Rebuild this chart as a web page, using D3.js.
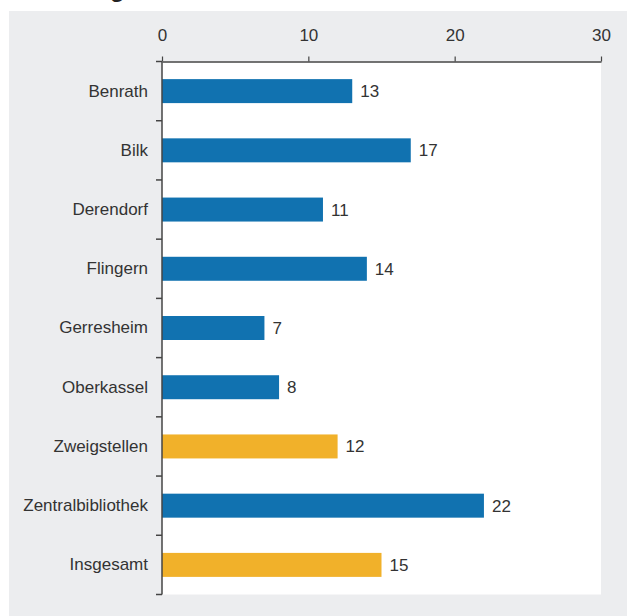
<!DOCTYPE html>
<html>
<head>
<meta charset="utf-8">
<script src="https://cdn.jsdelivr.net/npm/d3@7"></script>
<style>
  html, body { margin: 0; padding: 0; background: #fff; }
  svg { display: block; font-family: "Liberation Sans", Arial, sans-serif; }
</style>
</head>
<body>
<svg id="chart" width="627" height="616"></svg>
<script>
// Umschlag je Standort
const categories = ["Benrath", "Bilk", "Derendorf", "Flingern", "Gerresheim",
                    "Oberkassel", "Zweigstellen", "Zentralbibliothek", "Insgesamt"];
const values = [13, 17, 11, 14, 7, 8, 12, 22, 15];
const highlight = ["Zweigstellen", "Insgesamt"];
const xTicks = [0, 10, 20, 30];

const svg = d3.select("#chart");
const W = 627, H = 616;
const panel = { x: 9, y: 11 };
const plot = { left: 162, right: 601, top: 61.5, bottom: 594.5 };

const blue = "#1172b0", gold = "#f1b12a", axisCol = "#444", textCol = "#333";
const fontSize = 17;

// title (largely above the visible area)
svg.append("text")
  .attr("x", 10).attr("y", -3)
  .attr("font-size", 24).attr("font-weight", "bold")
  .attr("fill", "#222")
  .text("Umschlag");

// grey panel and white plot area
svg.append("rect").attr("x", panel.x).attr("y", panel.y)
  .attr("width", W - panel.x).attr("height", H - panel.y).attr("fill", "#ecedef");
svg.append("rect").attr("x", plot.left).attr("y", plot.top)
  .attr("width", plot.right - plot.left).attr("height", plot.bottom - plot.top)
  .attr("fill", "#fff");

const x = d3.scaleLinear().domain([0, 30]).range([plot.left, plot.right]);
const y = d3.scaleBand().domain(categories).range([plot.top, plot.bottom])
  .paddingInner(0.595).paddingOuter(0.2975);

// bars
svg.append("g").selectAll("rect").data(categories).join("rect")
  .attr("x", x(0))
  .attr("y", (d) => y(d))
  .attr("width", (d, i) => x(values[i]) - x(0))
  .attr("height", y.bandwidth())
  .attr("fill", (d) => highlight.includes(d) ? gold : blue);

// value labels
svg.append("g").selectAll("text").data(categories).join("text")
  .attr("x", (d, i) => x(values[i]) + 8)
  .attr("y", (d) => y(d) + y.bandwidth() / 2)
  .attr("dy", "0.35em")
  .attr("font-size", fontSize).attr("fill", textCol)
  .text((d, i) => values[i]);

// top axis
const xAxis = svg.append("g").attr("transform", `translate(0,${plot.top})`)
  .call(d3.axisTop(x).tickValues(xTicks).tickSize(5).tickSizeOuter(0).tickPadding(15.5));
xAxis.select(".domain").attr("stroke", axisCol).attr("stroke-width", 1.5);
xAxis.selectAll(".tick line").attr("stroke", axisCol).attr("stroke-width", 1.2);
xAxis.selectAll(".tick text").attr("font-size", fontSize).attr("fill", textCol)
  .attr("font-family", "Liberation Sans, Arial, sans-serif");

// left axis: labels at band centres, ticks at band boundaries
const yAxis = svg.append("g").attr("transform", `translate(${plot.left},0)`)
  .call(d3.axisLeft(y).tickSize(0).tickPadding(14));
yAxis.select(".domain").remove();
yAxis.selectAll(".tick text").attr("font-size", fontSize).attr("fill", textCol)
  .attr("font-family", "Liberation Sans, Arial, sans-serif");

const bounds = d3.range(categories.length + 1).map((i) => y.range()[0] + i * y.step());
svg.append("line")
  .attr("x1", plot.left).attr("x2", plot.left)
  .attr("y1", plot.top).attr("y2", plot.bottom)
  .attr("stroke", axisCol).attr("stroke-width", 1.5);
svg.append("g").selectAll("line").data(bounds).join("line")
  .attr("x1", plot.left - 6).attr("x2", plot.left)
  .attr("y1", (d) => d).attr("y2", (d) => d)
  .attr("stroke", axisCol).attr("stroke-width", 1.5);
</script>
</body>
</html>
